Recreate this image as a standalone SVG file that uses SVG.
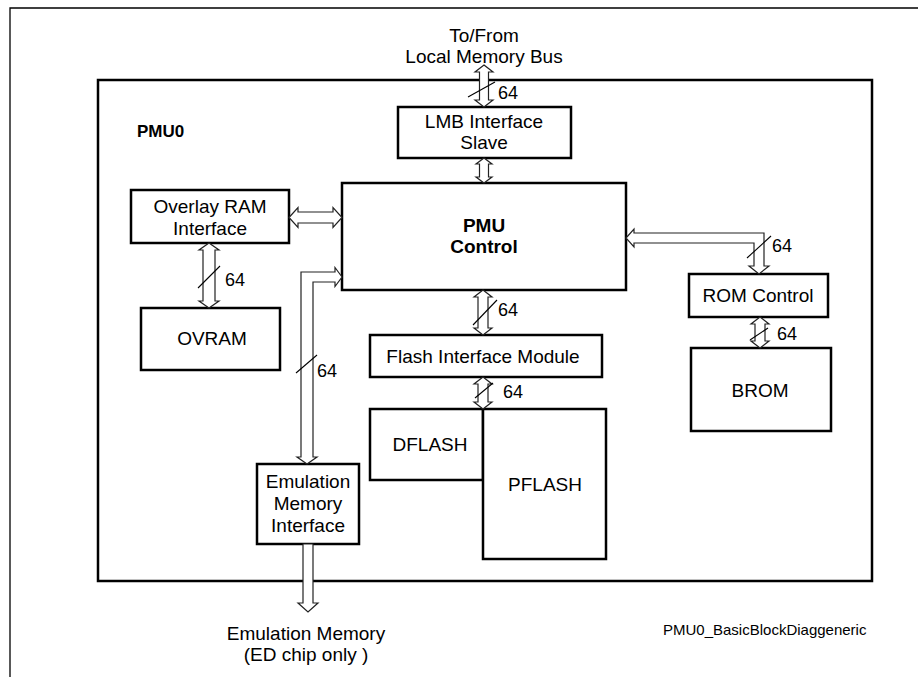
<svg xmlns="http://www.w3.org/2000/svg" width="918" height="677" viewBox="0 0 918 677">
<style>
.box{fill:#fff;stroke:#000;stroke-width:2.5}
.frame{fill:none;stroke:#000;stroke-width:1.3}
.arr{fill:#fff;stroke:#222;stroke-width:1.2;stroke-linejoin:miter}
.sl{stroke:#000;stroke-width:1.1}
text{font-family:"Liberation Sans",Arial,sans-serif;fill:#000}
.t{font-size:19px;text-anchor:middle}
.b{font-size:19px;font-weight:bold;text-anchor:middle}
.n{font-size:18px}
</style>
<rect width="918" height="677" fill="#fff"/>
<path class="frame" d="M10,677 V8 H918"/>
<rect id="pmu0" class="box" x="98" y="80" width="774" height="501"/>
<text x="137" y="137" style="font-size:17px;font-weight:bold">PMU0</text>
<text class="t" x="484" y="42">To/From</text>
<text class="t" x="484" y="63">Local Memory Bus</text>
<g id="lmb"><rect class="box" x="398" y="107" width="173" height="51"/><text class="t" x="484" y="128">LMB Interface</text><text class="t" x="484" y="149">Slave</text></g>
<g id="pmuctrl"><rect class="box" x="342" y="183" width="284" height="107"/><text class="b" x="484" y="232">PMU</text><text class="b" x="484" y="253">Control</text></g>
<g id="ori"><rect class="box" x="131" y="190" width="158" height="53"/><text class="t" x="210" y="213">Overlay RAM</text><text class="t" x="210" y="235">Interface</text></g>
<g id="ovram"><rect class="box" x="141" y="308" width="139" height="62"/><text class="t" x="212" y="345">OVRAM</text></g>
<g id="rom"><rect class="box" x="689" y="274" width="139" height="43"/><text class="t" x="758" y="302">ROM Control</text></g>
<g id="brom"><rect class="box" x="691" y="348" width="140" height="83"/><text class="t" x="760" y="397">BROM</text></g>
<g id="fim"><rect class="box" x="370" y="335" width="232" height="42"/><text class="t" x="483" y="363">Flash Interface Module</text></g>
<g id="dflash"><rect class="box" x="370" y="409" width="113" height="71"/><text class="t" x="430" y="451">DFLASH</text></g>
<g id="pflash"><rect class="box" x="483" y="409" width="123" height="150"/><text class="t" x="545" y="491">PFLASH</text></g>
<g id="emi"><rect class="box" x="257" y="464" width="102" height="80"/><text class="t" x="308" y="488">Emulation</text><text class="t" x="308" y="510">Memory</text><text class="t" x="308" y="532">Interface</text></g>
<text class="t" x="306" y="640">Emulation Memory</text>
<text class="t" x="306" y="661">(ED chip only )</text>
<text x="663" y="635" style="font-size:15px">PMU0_BasicBlockDiaggeneric</text>
<g id="connectors">
<polygon class="arr" points="484,65 493,72 488.5,72 488.5,100 493,100 484,107 475,100 479.5,100 479.5,72 475,72"/>
<line class="sl" x1="468" y1="97" x2="495" y2="82"/>
<text class="n" x="498" y="99">64</text>
<polygon class="arr" points="484,158 492,164 488.5,164 488.5,177 492,177 484,183 476,177 479.5,177 479.5,164 476,164"/>
<polygon class="arr" points="289,217.5 298,207.5 298,212 333,212 333,207.5 342,217.5 333,227.5 333,223 298,223 298,227.5"/>
<polygon class="arr" points="209,243 219,250 215,250 215,301 219,301 209,308 199,301 203,301 203,250 199,250"/>
<line class="sl" x1="198" y1="288" x2="220" y2="266"/>
<text class="n" x="225" y="286">64</text>
<polygon class="arr" points="342,277 335,267.5 335,272 301,272 301,457 297,457 307,464 317,457 313,457 313,282 335,282 335,286.5"/>
<line class="sl" x1="296" y1="373" x2="317" y2="355"/>
<text class="n" x="317" y="377">64</text>
<polygon class="arr" points="626,238 634,229 634,233 764,233 764,266 769,266 759,274 749,266 754,266 754,243 634,243 634,247"/>
<line class="sl" x1="747" y1="258" x2="771" y2="236"/>
<text class="n" x="772" y="252">64</text>
<polygon class="arr" points="760,317 769,324 765,324 765,341 769,341 760,348 751,341 755,341 755,324 751,324"/>
<line class="sl" x1="750" y1="340" x2="768" y2="328"/>
<text class="n" x="777" y="340">64</text>
<polygon class="arr" points="483,290 492,297 488,297 488,328 492,328 483,335 474,328 478,328 478,297 474,297"/>
<line class="sl" x1="473" y1="325" x2="497" y2="300"/>
<text class="n" x="498" y="316">64</text>
<polygon class="arr" points="483,377 492,384 488,384 488,402 492,402 483,409 474,402 478,402 478,384 474,384"/>
<line class="sl" x1="475" y1="398" x2="493" y2="383"/>
<text class="n" x="503" y="398">64</text>
<polygon class="arr" points="303,544 313,544 313,603 318,603 308,612 298,603 303,603"/>
</g>
</svg>
